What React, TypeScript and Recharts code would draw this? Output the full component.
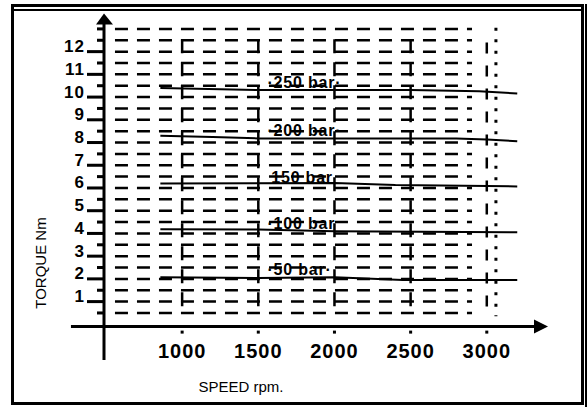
import { LineChart, Line, XAxis, YAxis, ReferenceLine, ReferenceDot } from "recharts";

const FONT = "'Liberation Sans', Arial, Helvetica, sans-serif";

// axis ticks
const speedTicks = [1000, 1500, 2000, 2500, 3000];
const torqueTicks = [
  0.5, 1, 1.5, 2, 2.5, 3, 3.5, 4, 4.5, 5, 5.5, 6, 6.5, 7, 7.5, 8, 8.5, 9, 9.5,
  10, 10.5, 11, 11.5, 12, 12.5, 13,
];
const gridRows = torqueTicks;
const gridCols = [1000, 1500, 2000, 2500];

// pressure curves (speed rpm -> torque Nm)
const rpm250 = [857, 1500, 2500, 2950, 3200];
const torque250 = [10.4, 10.31, 10.31, 10.26, 10.16];
const rpm200 = [857, 1200, 1500, 2800, 3000, 3200];
const torque200 = [8.3, 8.24, 8.18, 8.18, 8.13, 8.06];
const rpm150 = [857, 2000, 2400, 3200];
const torque150 = [6.2, 6.22, 6.13, 6.07];
const rpm100 = [857, 1500, 2000, 3200];
const torque100 = [4.18, 4.17, 4.1, 4.05];
const rpm50 = [857, 1500, 2000, 2450, 3200];
const torque50 = [2.07, 2.04, 2.07, 1.95, 1.95];

const labelText = ["·250 bar·", "·200 bar·", "150 bar", "·100 bar", "·50 bar·"];
const labelRpm = [1560, 1560, 1585, 1560, 1560];
const labelTorque = [10.4, 8.3, 6.23, 4.19, 2.17];

const toPoints = (xs: number[], ys: number[]) =>
  xs.map((x, i) => ({ rpm: x, torque: ys[i] }));

const curves = [
  toPoints(rpm250, torque250),
  toPoints(rpm200, torque200),
  toPoints(rpm150, torque150),
  toPoints(rpm100, torque100),
  toPoints(rpm50, torque50),
];

const X_MIN = 487;
const X_MAX = 3415;
const Y_MIN = -0.1;
const Y_MAX = 13.7;

const YTick = (props: any) => {
  const { x, y, payload } = props;
  const v = payload.value;
  const major = Number.isInteger(v) && v <= 12;
  if (!major) {
    return <rect x={x - 7} y={y - 1.5} width={7} height={3} fill="#000" />;
  }
  return (
    <g>
      <rect x={x - 17} y={y - 1.5} width={17} height={3} fill="#000" />
      <text
        x={x - 19}
        y={y + 0.5}
        textAnchor="end"
        fontFamily={FONT}
        fontWeight="bold"
        fontSize={17}
        letterSpacing={1}
        fill="#000"
      >
        {v}
      </text>
    </g>
  );
};

const XTick = (props: any) => {
  const { x, y, payload } = props;
  return (
    <g>
      <rect x={x - 1.5} y={y + 4} width={3} height={3} fill="#000" />
      <text
        x={x}
        y={y + 31}
        textAnchor="middle"
        fontFamily={FONT}
        fontWeight="bold"
        fontSize={20}
        letterSpacing={1}
        fill="#000"
      >
        {payload.value}
      </text>
    </g>
  );
};

const Frame = () => (
  <>
    <div
      style={{
        position: "absolute",
        left: 11,
        top: 4,
        width: 567,
        height: 395,
        border: "3px solid #000",
      }}
    />
    <div style={{ position: "absolute", left: 11, top: 9, width: 571, height: 2, background: "#000" }} />
    <div style={{ position: "absolute", left: 585, top: 4, width: 2, height: 403, background: "#000" }} />
  </>
);

export default function App() {
  return (
    <div
      style={{
        position: "absolute",
        left: 0,
        top: 0,
        width: 588,
        height: 407,
        background: "#fff",
        overflow: "hidden",
      }}
    >
      <Frame />
      <div style={{ position: "absolute", left: 0, top: 0 }}>
        <LineChart
          width={588}
          height={407}
          margin={{ top: 13, right: 38, bottom: 40.4, left: 44 }}
        >
          <XAxis
            type="number"
            dataKey="rpm"
            domain={[X_MIN, X_MAX]}
            ticks={speedTicks}
            interval={0}
            allowDataOverflow
            axisLine={false}
            tickLine={false}
            tickSize={0}
            tickMargin={0}
            height={40}
            tick={XTick}
          />
          <YAxis
            type="number"
            dataKey="torque"
            domain={[Y_MIN, Y_MAX]}
            ticks={torqueTicks}
            interval={0}
            allowDataOverflow
            axisLine={false}
            tickLine={false}
            tickSize={0}
            tickMargin={0}
            width={60}
            tick={YTick}
          />

          {gridRows.map((v) => (
            <ReferenceLine
              key={`row-${v}`}
              segment={[
                { x: 559, y: v },
                { x: 2903, y: v },
              ]}
              stroke="#000"
              strokeWidth={2.5}
              strokeDasharray="13 9"
              ifOverflow="visible"
            />
          ))}
          {gridCols.map((c) => (
            <ReferenceLine
              key={`col-${c}`}
              segment={[
                { x: c, y: 12.55 },
                { x: c, y: 0.4 },
              ]}
              stroke="#000"
              strokeWidth={2.5}
              strokeDasharray="14 9"
              ifOverflow="visible"
            />
          ))}
          <ReferenceLine
            segment={[
              { x: 3000, y: 12.4 },
              { x: 3000, y: 0.6 },
            ]}
            stroke="#000"
            strokeWidth={2.5}
            strokeDasharray="11 12"
            ifOverflow="visible"
          />
          <ReferenceLine
            segment={[
              { x: 3060, y: 13.05 },
              { x: 3060, y: 0.35 },
            ]}
            stroke="#000"
            strokeWidth={3}
            strokeDasharray="3 8.5"
            ifOverflow="visible"
          />

          {/* axes */}
          <ReferenceLine
            segment={[
              { x: 270, y: Y_MIN },
              { x: 3330, y: Y_MIN },
            ]}
            stroke="#000"
            strokeWidth={3}
            ifOverflow="visible"
          />
          <ReferenceLine
            segment={[
              { x: X_MIN, y: 13.4 },
              { x: X_MIN, y: -1.57 },
            ]}
            stroke="#000"
            strokeWidth={3}
            ifOverflow="visible"
          />
          <ReferenceDot
            x={3402}
            y={Y_MIN}
            r={1}
            ifOverflow="visible"
            shape={(p: any) => (
              <polygon
                points={`${p.cx - 14},${p.cy - 7} ${p.cx},${p.cy} ${p.cx - 14},${p.cy + 7}`}
                fill="#000"
              />
            )}
          />
          <ReferenceDot
            x={X_MIN}
            y={13.68}
            r={1}
            ifOverflow="visible"
            shape={(p: any) => (
              <polygon
                points={`${p.cx - 8},${p.cy + 11} ${p.cx},${p.cy} ${p.cx + 9},${p.cy + 11}`}
                fill="#000"
              />
            )}
          />

          {curves.map((d, i) => (
            <Line
              key={`curve-${i}`}
              data={d}
              dataKey="torque"
              type="linear"
              stroke="#000"
              strokeWidth={2}
              dot={false}
              activeDot={false}
              isAnimationActive={false}
            />
          ))}

          {labelText.map((t, i) => (
            <ReferenceDot
              key={`lab-${i}`}
              x={labelRpm[i]}
              y={labelTorque[i]}
              r={1}
              ifOverflow="visible"
              shape={(p: any) => (
                <text
                  x={p.cx}
                  y={p.cy}
                  fontFamily={FONT}
                  fontWeight="bold"
                  fontSize={16}
                  letterSpacing={0.8}
                  fill="#000"
                >
                  {t}
                </text>
              )}
            />
          ))}
        </LineChart>
      </div>
      <div
        style={{
          position: "absolute",
          left: 40,
          top: 263,
          transform: "translate(-50%, -50%) rotate(-90deg)",
          fontFamily: FONT,
          fontSize: 15,
          whiteSpace: "nowrap",
          color: "#000",
        }}
      >
        TORQUE Nm
      </div>
      <div
        style={{
          position: "absolute",
          left: 241,
          top: 378,
          transform: "translateX(-50%)",
          fontFamily: FONT,
          fontSize: 15,
          whiteSpace: "nowrap",
          color: "#000",
        }}
      >
        SPEED rpm.
      </div>
    </div>
  );
}
